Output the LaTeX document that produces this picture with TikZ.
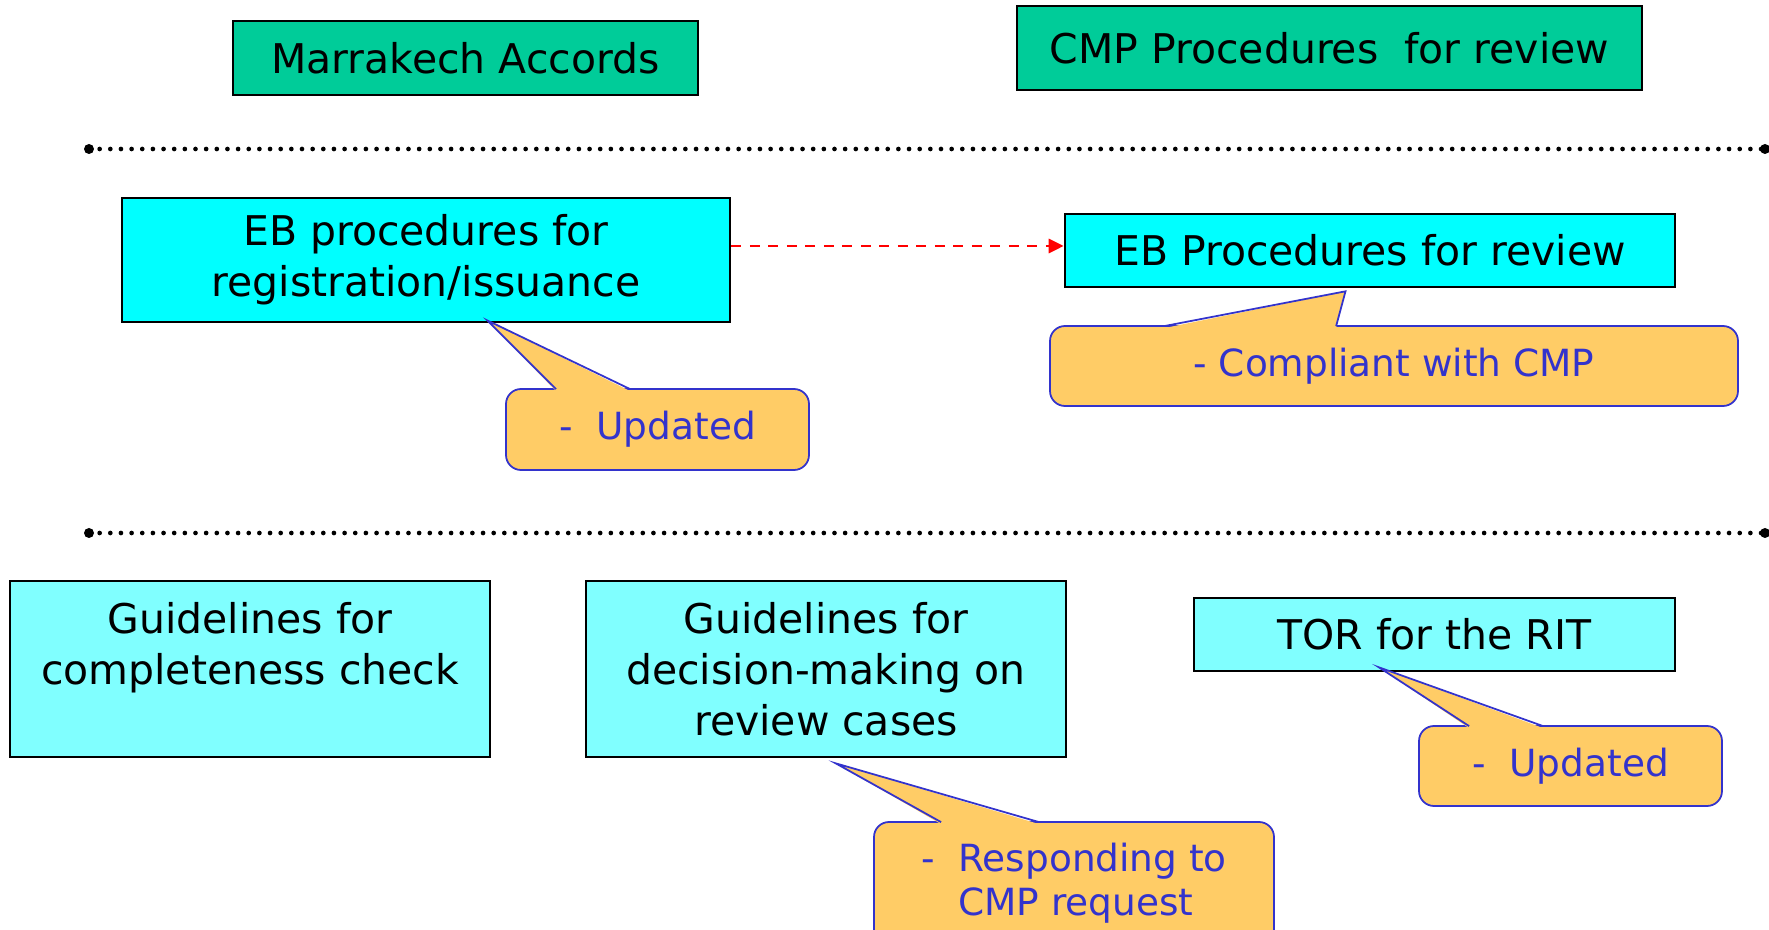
\documentclass[tikz,border=0pt]{standalone}
\usepackage{fontspec}
\setmainfont{DejaVu Sans}
\usetikzlibrary{positioning,calc,arrows.meta}
\definecolor{accordgreen}{HTML}{00CC99}
\definecolor{ebcyan}{HTML}{00FFFF}
\definecolor{palecyan}{HTML}{80FFFF}
\definecolor{noteorange}{HTML}{FFCC66}
\definecolor{noteblue}{HTML}{3333CC}

\begin{document}
\begin{tikzpicture}[align=center]
    \tikzstyle{header} = [draw,line width=1.5pt,fill=accordgreen,inner sep=0pt,font=\fontsize{23.3}{29}\selectfont]
    \tikzstyle{procbox} = [header,fill=ebcyan]
    \tikzstyle{guidebox} = [header,fill=palecyan]
    \tikzstyle{note} = [draw=noteblue,line width=1pt,fill=noteorange,rounded corners=0.3cm,inner sep=0pt,text=noteblue,font=\fontsize{21.3}{25}\selectfont]
    \tikzstyle{noteedge} = [draw=noteblue,line width=1pt,line join=miter]
    \tikzstyle{separator} = [line width=0.094cm,line cap=round,dash pattern=on 0pt off 0.213cm]
    \tikzstyle{link} = [red,line width=1.7pt,dash pattern=on 0.2cm off 0.17cm,-{Triangle[length=0.3cm,width=0.28cm]}]
      \clip (0,0) rectangle (35.38,-18.6);
      \fill[white] (0,0) rectangle (35.38,-18.6);
      % top row
      \node[header,minimum width=9.3cm,minimum height=1.48cm] (marrakech) at (9.31,-1.16) {Marrakech Accords};
      \node[header,minimum width=12.5cm,minimum height=1.68cm] (cmpreview) at (26.59,-0.96) {CMP Procedures\ \ for review};
      % separators
      \coordinate (sepOneL) at (1.78,-2.98);
      \coordinate (sepOneR) at (35.3,-2.98);
      \coordinate (sepTwoL) at (1.78,-10.66);
      \coordinate (sepTwoR) at (35.3,-10.66);
      \foreach \s in {sepOne,sepTwo} {
        \draw[separator] (\s L) -- (\s R);
        \fill (\s L) circle (0.1);
        \fill (\s R) circle (0.1);
      }
      % EB procedures
      \node[procbox,minimum width=12.16cm,minimum height=2.48cm] (ebreg) at (8.52,-5.2) {EB procedures for\\registration/issuance};
      \node[procbox,minimum width=12.2cm,minimum height=1.46cm] (ebreview) at (27.4,-5.01) {EB Procedures for review};
      \draw[link] ([yshift=0.09cm]ebreg.east |- ebreview.west) -- ([yshift=0.09cm]ebreview.west);
      % guidelines
      \node[guidebox,minimum width=9.6cm,minimum height=3.52cm] (guidecheck) at (5.0,-13.38) {Guidelines for\\completeness check\\~};
      \node[guidebox,minimum width=9.6cm,minimum height=3.52cm] (guidedecision) at (16.52,-13.38) {Guidelines for\\decision-making on\\review cases};
      \node[guidebox,minimum width=9.62cm,minimum height=1.46cm] (tor) at (28.69,-12.69) {TOR for the RIT};
      % callouts
      \node[note,minimum width=6.06cm,minimum height=1.62cm] (updOne) at (13.15,-8.59) {-\ \ Updated};
      \node[note,minimum width=13.76cm,minimum height=1.6cm] (compliant) at (27.88,-7.32) {- Compliant with CMP};
      \node[note,minimum width=6.06cm,minimum height=1.6cm] (updTwo) at (31.41,-15.32) {-\ \ Updated};
      \node[note,minimum width=8cm,minimum height=2.44cm,align=left] (respond) at (21.48,-17.66) {-\ \ Responding to\\\phantom{-\ \ }CMP request};
      \coordinate (updOneTip) at ($(ebreg.south west)!0.6!(ebreg.south east)+(0,0.06)$);
      \coordinate (compliantTip) at ($(ebreview.south west)!0.46!(ebreview.south east)+(0,-0.06)$);
      \coordinate (updTwoTip) at ($(tor.south west)!0.385!(tor.south east)+(0,0.1)$);
      \coordinate (respondTip) at ($(guidedecision.south west)!0.52!(guidedecision.south east)+(0,-0.1)$);
      \foreach \n/\a/\b in {updOne/1.02/2.5,compliant/2.3/5.74,updTwo/1.02/2.5,respond/1.36/3.32} {
        \fill[noteorange] ($(\n.north west)+(\a,-0.06)$) -- (\n Tip) -- ($(\n.north west)+(\b,-0.06)$) -- cycle;
        \draw[noteedge] ($(\n.north west)+(\a,-0.02)$) -- (\n Tip) -- ($(\n.north west)+(\b,-0.02)$);
      }
  \end{tikzpicture}
\end{document}
